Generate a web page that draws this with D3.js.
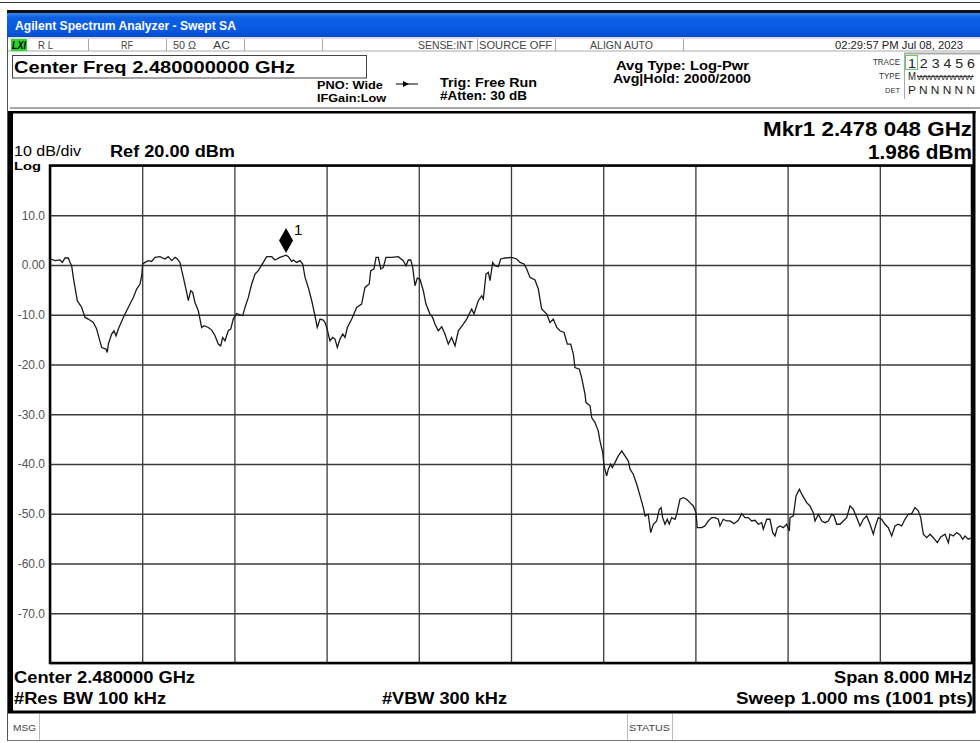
<!DOCTYPE html>
<html>
<head>
<meta charset="utf-8">
<script src="https://cdn.jsdelivr.net/npm/d3@7"></script>
<style>
  body { margin: 0; background: #fff; }
  svg { display: block; }
</style>
</head>
<body>
<svg id="chart" width="980" height="743"></svg>
<script>
// ---- Trace 1: frequency offset from the 2.480 GHz center (MHz) and level (dBm)
const freqOffsetMHz = [
  -3.994,-3.957,-3.913,-3.893,-3.870,-3.841,-3.826,-3.812,-3.798,-3.783,
  -3.763,-3.725,-3.696,-3.668,-3.624,-3.595,-3.572,-3.551,-3.514,-3.503,
  -3.494,-3.465,-3.445,-3.427,-3.407,-3.364,-3.321,-3.277,-3.248,-3.219,
  -3.204,-3.196,-3.176,-3.147,-3.118,-3.089,-3.046,-3.002,-2.974,-2.944,
  -2.915,-2.895,-2.872,-2.857,-2.843,-2.814,-2.800,-2.779,-2.762,-2.742,
  -2.713,-2.684,-2.664,-2.626,-2.597,-2.568,-2.540,-2.519,-2.502,-2.482,
  -2.453,-2.432,-2.410,-2.380,-2.351,-2.328,-2.308,-2.279,-2.250,-2.221,
  -2.193,-2.172,-2.149,-2.120,-2.076,-2.048,-2.004,-1.952,-1.932,-1.903,
  -1.889,-1.859,-1.831,-1.807,-1.787,-1.759,-1.729,-1.701,-1.681,-1.657,
  -1.629,-1.614,-1.599,-1.571,-1.547,-1.527,-1.507,-1.484,-1.460,-1.440,
  -1.420,-1.382,-1.339,-1.296,-1.267,-1.230,-1.217,-1.189,-1.171,-1.151,
  -1.130,-1.108,-1.085,-1.035,-0.978,-0.935,-0.911,-0.891,-0.870,-0.853,
  -0.833,-0.813,-0.790,-0.761,-0.738,-0.703,-0.680,-0.660,-0.631,-0.601,
  -0.573,-0.544,-0.515,-0.486,-0.457,-0.414,-0.384,-0.341,-0.321,-0.284,
  -0.254,-0.240,-0.217,-0.197,-0.182,-0.159,-0.139,-0.110,-0.089,-0.052,
   0.006, 0.049, 0.078, 0.113, 0.136, 0.165, 0.208, 0.237, 0.266, 0.310,
   0.338, 0.367, 0.397, 0.425, 0.460, 0.489, 0.518, 0.541, 0.555, 0.593,
   0.613, 0.642, 0.651, 0.686, 0.700, 0.729, 0.757, 0.772, 0.796, 0.807,
   0.830, 0.844, 0.865, 0.879, 0.902, 0.931, 0.961, 0.989, 1.018, 1.033,
   1.061, 1.091, 1.120, 1.148, 1.163, 1.191, 1.212, 1.235, 1.264, 1.287,
   1.302, 1.316, 1.336, 1.356, 1.373, 1.394, 1.423, 1.438, 1.466, 1.495,
   1.524, 1.553, 1.582, 1.605, 1.616, 1.655, 1.683, 1.712, 1.741, 1.770,
   1.799, 1.813, 1.842, 1.871, 1.900, 1.935, 1.972, 2.002, 2.030, 2.059,
   2.088, 2.117, 2.146, 2.175, 2.189, 2.219, 2.247, 2.271, 2.291, 2.311,
   2.334, 2.363, 2.392, 2.415, 2.421, 2.450, 2.473, 2.502, 2.531, 2.566,
   2.594, 2.623, 2.638, 2.667, 2.696, 2.725, 2.753, 2.783, 2.803, 2.826,
   2.855, 2.883, 2.913, 2.941, 2.970, 3.000, 3.028, 3.057, 3.086, 3.115,
   3.144, 3.158, 3.187, 3.216, 3.245, 3.274, 3.303, 3.332, 3.360, 3.390,
   3.418, 3.447, 3.477, 3.505, 3.534, 3.555, 3.578, 3.607, 3.636, 3.665,
   3.699, 3.729, 3.766, 3.795, 3.809, 3.838, 3.867, 3.896, 3.920, 3.939,
   3.968, 3.997
];
const levelDbm = [
   1.21, 0.87, 1.01, 0.52, 1.41, 1.41, 0.52,-0.14,-2.49,-4.51,
  -7.18,-8.53,-10.54,-10.87,-11.55,-12.88,-14.89,-16.58,-16.90,-17.59,
  -15.90,-13.88,-13.22,-14.23,-12.88,-10.54,-8.53,-6.52,-4.83,-3.82,
  -2.15, 0.20, 0.52, 0.87, 0.72, 1.53, 1.67, 1.21, 1.67, 0.87,
   1.53, 1.21, 0.52,-1.15,-2.49,-5.51,-7.18,-5.17,-5.51,-7.53,
  -9.20,-12.56,-12.21,-12.56,-13.08,-14.23,-15.90,-16.24,-14.57,-15.23,
  -13.22,-12.88,-10.87,-9.74,-10.00,-10.20,-8.53,-6.52,-3.82,-1.81,
  -1.15,-0.34, 0.52, 1.67, 1.67, 1.01, 1.53, 1.986, 1.67, 0.72,
   1.01, 0.52, 0.87, 0.20,-2.49,-4.51,-7.18,-10.20,-12.56,-10.87,
  -11.07,-11.55,-12.56,-15.23,-14.57,-14.89,-16.58,-14.89,-13.88,-14.57,
  -12.56,-10.87,-8.53,-7.85,-4.51,-3.82,-1.15,-0.80, 1.53, 1.53,
  -0.80,-0.48, 1.53, 1.53, 1.67, 0.87,-0.14, 1.01, 1.01,-0.48,
  -4.17,-2.62,-2.82,-5.17,-7.85,-9.86,-10.54,-11.87,-13.22,-12.41,
  -13.88,-15.90,-14.57,-16.24,-13.22,-11.87,-10.87,-8.85,-9.86,-7.18,
  -6.18,-6.84,-1.81,-1.49,-3.16, 0.52,-0.14,-0.34, 1.21, 1.41,
   1.53, 1.21, 0.52, 0.20,-0.80,-2.49,-3.02,-4.83,-8.85,-9.86,
  -11.55,-10.87,-12.56,-13.22,-13.56,-15.90,-15.90,-17.91,-20.60,-20.93,
  -22.62,-25.96,-27.65,-28.31,-30.66,-31.67,-33.34,-35.35,-37.71,-40.38,
  -42.39,-41.05,-40.04,-40.72,-39.72,-38.37,-37.36,-38.37,-39.38,-41.05,
  -42.05,-44.06,-46.42,-48.77,-50.44,-50.10,-53.80,-52.11,-51.45,-49.09,
  -48.77,-50.78,-52.11,-51.11,-52.11,-50.78,-51.11,-50.10,-47.08,-46.76,
  -47.08,-47.77,-48.43,-49.78,-52.80,-52.80,-52.45,-51.45,-50.78,-50.78,
  -51.11,-52.45,-51.11,-51.45,-51.45,-51.99,-51.31,-49.98,-50.78,-50.78,
  -51.45,-51.31,-52.11,-51.79,-53.12,-51.11,-51.11,-53.80,-54.47,-52.80,
  -52.45,-52.80,-52.11,-53.46,-50.78,-50.44,-46.42,-45.07,-46.42,-47.77,
  -48.43,-49.78,-51.45,-50.10,-51.45,-51.79,-51.45,-50.10,-50.44,-52.11,
  -52.11,-51.45,-50.78,-48.43,-49.09,-50.78,-52.45,-51.11,-50.44,-52.11,
  -54.12,-52.80,-50.78,-51.11,-52.11,-52.80,-54.47,-52.45,-52.11,-52.45,
  -51.11,-50.10,-49.98,-48.77,-49.42,-50.78,-54.12,-54.81,-54.12,-54.81,
  -55.81,-54.67,-54.12,-55.81,-54.12,-54.47,-53.80,-54.27,-55.13,-54.47,
  -55.13,-54.81
];

// ---- Axis setup
const spanMHz = [-4, 4];                 // 8.000 MHz span
const refLevelDbm = 20, dbPerDiv = 10, numDivs = 10;
const xGridMHz = d3.range(0, 11).map(i => -4 + i * 0.8);
const yTickValues = [10, 0, -10, -20, -30, -40, -50, -60, -70];
const yTickLabels = ["10.0", "0.00", "-10.0", "-20.0", "-30.0", "-40.0", "-50.0", "-60.0", "-70.0"];

// ---- Marker 1
const markerFreqMHz = -1.952;            // 2.478 048 GHz
const markerLevelDbm = 1.986;
const markerLabel = "1";

// ---- Instrument annotations
const headerTitle = "Agilent Spectrum Analyzer - Swept SA";
const statusItems = ["R L", "RF", "50 Ω", "AC", "SENSE:INT", "SOURCE OFF", "ALIGN AUTO"];
const timestamp = "02:29:57 PM Jul 08, 2023";

const svg = d3.select("#chart");
const FONT = "'Liberation Sans', Arial, sans-serif";

function txt(g, x, y, s, o = {}) {
  const t = g.append("text")
    .attr("x", x).attr("y", y).text(s)
    .attr("font-family", o.family || FONT)
    .attr("font-size", o.size || 12)
    .attr("font-weight", o.weight || "normal")
    .attr("fill", o.fill || "#000");
  if (o.anchor) t.attr("text-anchor", o.anchor);
  if (o.style) t.attr("font-style", o.style);
  if (o.width) t.attr("textLength", o.width).attr("lengthAdjust", "spacingAndGlyphs");
  return t;
}
function line(g, x1, y1, x2, y2, stroke, w) {
  return g.append("line").attr("x1", x1).attr("y1", y1).attr("x2", x2).attr("y2", y2)
    .attr("stroke", stroke).attr("stroke-width", w);
}

// ---- Window frame
line(svg, 0, 2.5, 980, 2.5, "#333", 1);
line(svg, 7.5, 10, 7.5, 741, "#555", 1);

const defs = svg.append("defs");
const grad = defs.append("linearGradient").attr("id", "titleGrad")
  .attr("x1", 0).attr("y1", 0).attr("x2", 0).attr("y2", 1);
grad.append("stop").attr("offset", "0%").attr("stop-color", "#3a86f2");
grad.append("stop").attr("offset", "18%").attr("stop-color", "#0f62e4");
grad.append("stop").attr("offset", "80%").attr("stop-color", "#0656df");
grad.append("stop").attr("offset", "100%").attr("stop-color", "#0448c6");

svg.append("rect").attr("x", 7).attr("y", 10).attr("width", 973).attr("height", 3.5).attr("fill", "#111");
svg.append("rect").attr("x", 7).attr("y", 13).attr("width", 973).attr("height", 24).attr("fill", "url(#titleGrad)");
txt(svg, 15, 30, headerTitle, { size: 13, weight: "bold", fill: "#fff", width: 221 });

// ---- Status row
line(svg, 8, 38, 980, 38, "#bbb", 1);
line(svg, 8, 51, 980, 51, "#aaa", 1);
svg.append("rect").attr("x", 11).attr("y", 39).attr("width", 16).attr("height", 12).attr("fill", "#27d627");
txt(svg, 12, 48.5, "LXI", { size: 10, weight: "bold", style: "italic", width: 14 });
const statusX = [38, 121, 173, 213, 418, 479, 590];
const statusW = [15, 12, 23, 17, 55, 73, 63];
statusItems.forEach((s, i) => txt(svg, statusX[i], 48.5, s, { size: 10, fill: "#444", width: statusW[i] }));
[88, 166, 244, 322, 477, 555, 683].forEach(x => line(svg, x + 0.5, 39, x + 0.5, 51, "#aaa", 1));
txt(svg, 963, 48.5, timestamp, { size: 10, fill: "#222", anchor: "end", width: 128 });

// ---- Settings block
svg.append("rect").attr("x", 12.5).attr("y", 55.5).attr("width", 354).attr("height", 22.5)
  .attr("fill", "none").attr("stroke", "#444").attr("stroke-width", 1);
txt(svg, 14, 73, "Center Freq 2.480000000 GHz", { size: 17, weight: "bold", width: 281 });

txt(svg, 317, 89, "PNO: Wide", { size: 11.5, weight: "bold", width: 66 });
txt(svg, 317, 102, "IFGain:Low", { size: 11.5, weight: "bold", width: 69 });
line(svg, 396, 84, 418, 84, "#000", 1);
svg.append("path").attr("d", "M403,81 L409,84 L403,87 Z").attr("fill", "#000");
txt(svg, 440, 87, "Trig: Free Run", { size: 12.5, weight: "bold", width: 97 });
txt(svg, 440, 100, "#Atten: 30 dB", { size: 12.5, weight: "bold", width: 87 });
txt(svg, 616, 69.5, "Avg Type: Log-Pwr", { size: 12.5, weight: "bold", width: 133 });
txt(svg, 613, 82.5, "Avg|Hold: 2000/2000", { size: 12.5, weight: "bold", width: 138 });

// Trace table
line(svg, 904.5, 53, 904.5, 99, "#aaa", 1);
line(svg, 904, 53.5, 980, 53.5, "#aaa", 2);
txt(svg, 900, 65, "TRACE", { size: 9, fill: "#333", anchor: "end", width: 27 });
txt(svg, 900, 79, "TYPE", { size: 9, fill: "#333", anchor: "end", width: 21 });
txt(svg, 900, 93, "DET", { size: 8, fill: "#333", anchor: "end", width: 15 });
svg.append("rect").attr("x", 905.5).attr("y", 55.5).attr("width", 12).attr("height", 14)
  .attr("fill", "none").attr("stroke", "#6c6").attr("stroke-width", 1);
txt(svg, 908, 67.5, "1 2 3 4 5 6", { size: 12, fill: "#222", width: 67 });
txt(svg, 908, 80, "M", { size: 10, fill: "#222", width: 8 });
txt(svg, 917, 79.5, "WWWWWWW", { size: 8, fill: "#222", width: 56 });
line(svg, 917, 76.5, 974, 76.5, "#222", 0.8);
txt(svg, 908, 94, "P N N N N N", { size: 10.5, fill: "#222", width: 67 });

// ---- Display panel frame
line(svg, 10, 108, 980, 108, "#a8a8a8", 2);
svg.append("rect").attr("x", 8).attr("y", 111).attr("width", 967.5).attr("height", 2.5).attr("fill", "#000");
svg.append("rect").attr("x", 8).attr("y", 111).attr("width", 5).attr("height", 602).attr("fill", "#000");
svg.append("rect").attr("x", 972.5).attr("y", 111).attr("width", 3).attr("height", 602).attr("fill", "#000");
svg.append("rect").attr("x", 8).attr("y", 710.5).attr("width", 967.5).attr("height", 3).attr("fill", "#000");

// Marker readout and scale labels
txt(svg, 972, 136, "Mkr1 2.478 048 GHz", { size: 20, weight: "bold", anchor: "end", width: 209 });
txt(svg, 972, 159, "1.986 dBm", { size: 20, weight: "bold", anchor: "end", width: 104 });
txt(svg, 14, 156, "10 dB/div", { size: 14, width: 67 });
txt(svg, 110, 156.5, "Ref 20.00 dBm", { size: 16, weight: "bold", width: 125 });
txt(svg, 14, 169.5, "Log", { size: 11.5, weight: "bold", width: 27 });

// ---- Plot
const plot = { left: 50, right: 972, top: 165.5, bottom: 663 };
const x = d3.scaleLinear().domain(spanMHz).range([plot.left, plot.right]);
const y = d3.scaleLinear()
  .domain([refLevelDbm - dbPerDiv * numDivs, refLevelDbm])
  .range([plot.bottom, plot.top]);

const grid = svg.append("g");
grid.append("g")
  .attr("transform", `translate(0,${plot.bottom})`)
  .call(d3.axisBottom(x).tickValues(xGridMHz).tickSize(-(plot.bottom - plot.top)).tickFormat(""))
  .call(g => g.select(".domain").remove());
grid.append("g")
  .attr("transform", `translate(${plot.left},0)`)
  .call(d3.axisLeft(y).tickValues(d3.range(-80, 21, 10)).tickSize(-(plot.right - plot.left)).tickFormat(""))
  .call(g => g.select(".domain").remove());
grid.selectAll(".tick line").attr("stroke", "#3a3a3a").attr("stroke-width", 1.3);

const yAxis = svg.append("g")
  .attr("transform", `translate(${plot.left},0)`)
  .call(d3.axisLeft(y).tickValues(yTickValues).tickFormat((d, i) => yTickLabels[i]).tickSize(0).tickPadding(5))
  .call(g => g.select(".domain").remove());
yAxis.selectAll("text").attr("font-family", FONT).attr("font-size", 12).attr("fill", "#555");

svg.append("rect")
  .attr("x", plot.left).attr("y", plot.top)
  .attr("width", plot.right - plot.left).attr("height", plot.bottom - plot.top)
  .attr("fill", "none").attr("stroke", "#000").attr("stroke-width", 2.5);

// Trace
const traceData = freqOffsetMHz.map((f, i) => [f, levelDbm[i]]);
svg.append("path")
  .datum(traceData)
  .attr("fill", "none")
  .attr("stroke", "#1a1a1a")
  .attr("stroke-width", 1.3)
  .attr("stroke-linejoin", "miter")
  .attr("d", d3.line().x(d => x(d[0])).y(d => y(d[1])).curve(d3.curveLinear));

// Marker diamond sits just above the trace point
const mx = x(markerFreqMHz), my = y(markerLevelDbm);
const dCy = my - 14.5;
svg.append("path")
  .attr("d", `M${mx},${dCy - 12.5} L${mx + 7},${dCy} L${mx},${dCy + 12.5} L${mx - 7},${dCy} Z`)
  .attr("fill", "#000");
txt(svg, mx + 8, dCy - 5.5, markerLabel, { size: 15 });

// ---- Footer
txt(svg, 14, 683, "Center 2.480000 GHz", { size: 16, weight: "bold", width: 181 });
txt(svg, 14, 703.5, "#Res BW 100 kHz", { size: 16, weight: "bold", width: 152 });
txt(svg, 382, 703.5, "#VBW 300 kHz", { size: 16, weight: "bold", width: 125 });
txt(svg, 972, 683, "Span 8.000 MHz", { size: 16, weight: "bold", anchor: "end", width: 138 });
txt(svg, 973, 703.5, "Sweep  1.000 ms (1001 pts)", { size: 16, weight: "bold", anchor: "end", width: 237 });

// ---- Message bar
line(svg, 8, 740.5, 980, 740.5, "#777", 1);
txt(svg, 13, 731, "MSG", { size: 9.5, fill: "#444", width: 23 });
line(svg, 39.5, 714, 39.5, 740, "#bbb", 1);
line(svg, 627.5, 714, 627.5, 740, "#bbb", 1);
line(svg, 672.5, 714, 672.5, 740, "#bbb", 1);
txt(svg, 629, 731, "STATUS", { size: 9.5, fill: "#444", width: 41 });
</script>
</body>
</html>
